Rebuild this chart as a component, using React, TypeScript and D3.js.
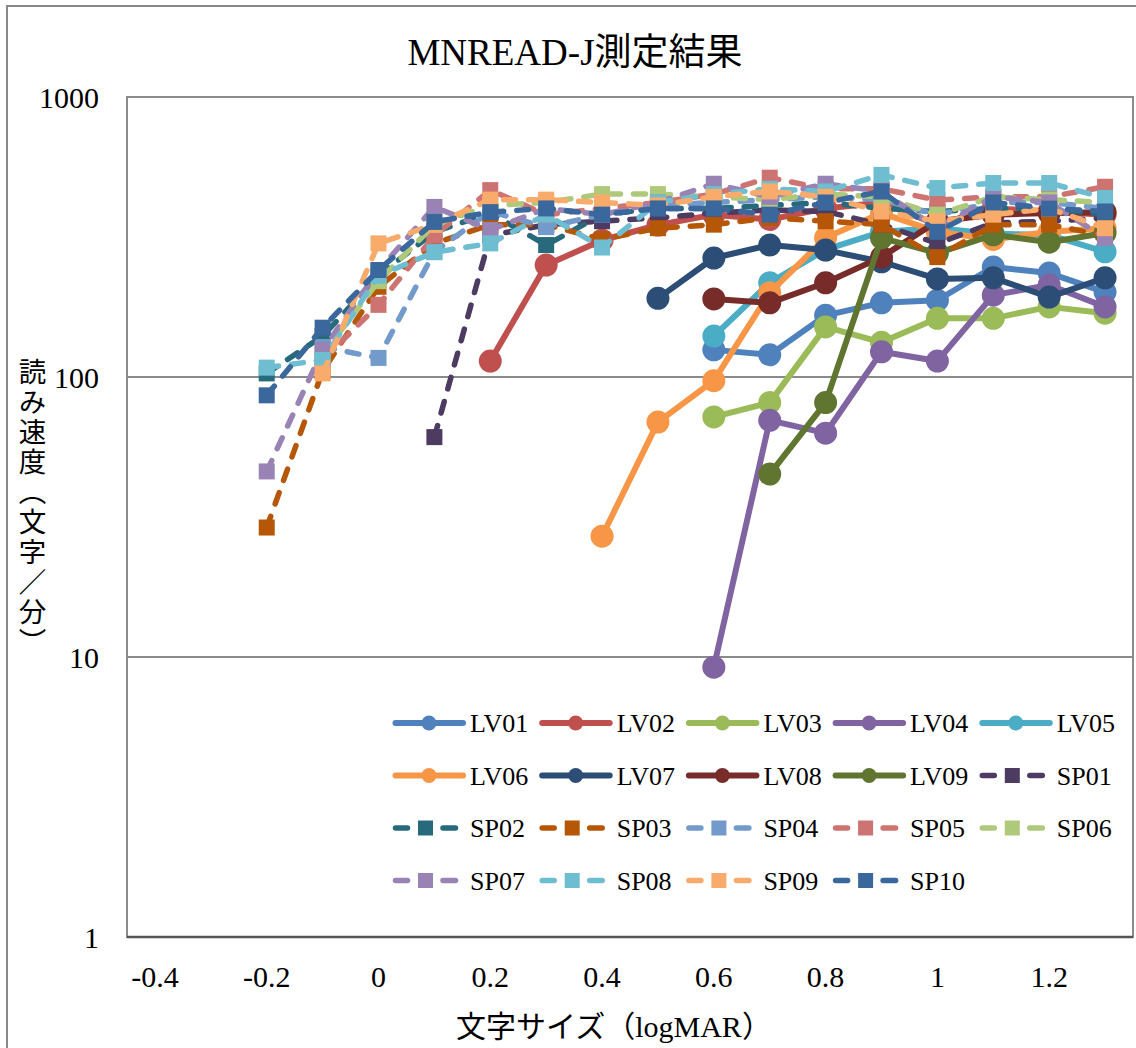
import * as React from 'react';
import * as d3 from 'd3';

// logMAR steps on the x axis
const logMAR = [-0.2, -0.1, 0, 0.1, 0.2, 0.3, 0.4, 0.5, 0.6, 0.7, 0.8, 0.9, 1.0, 1.1, 1.2, 1.3];

const xTicks = [-0.4, -0.2, 0, 0.2, 0.4, 0.6, 0.8, 1, 1.2];
const yTicks = [1, 10, 100, 1000];

const seriesNames = [
  'LV01', 'LV02', 'LV03', 'LV04', 'LV05', 'LV06', 'LV07', 'LV08', 'LV09',
  'SP01', 'SP02', 'SP03', 'SP04', 'SP05', 'SP06', 'SP07', 'SP08', 'SP09', 'SP10',
];

const seriesColors = [
  '#4F81BD', '#C0504D', '#9BBB59', '#8064A2', '#4BACC6', '#F79646', '#2C4D75', '#772C2A', '#5F7530',
  '#4D3B62', '#276A7C', '#B65708', '#729ACA', '#CD7371', '#AFC97A', '#9983B5', '#6FBDD1', '#F9AB6B', '#3A679C',
];

// reading speed (characters / minute), null = not measured
const _ = null;
const LV01 = [_, _, _, _, _, _, _, _, 125, 120, 166, 184, 188, 247, 235, 201];
const LV02 = [_, _, _, _, 114, 251, 308, 349, 380, 365, 400, 420, 350, 400, 390, 380];
const LV03 = [_, _, _, _, _, _, _, _, 72, 81, 151, 133, 162, 162, 178, 169];
const LV04 = [_, _, _, _, _, _, _, _, 9.2, 70, 63, 123, 114, 196, 213, 178];
const LV05 = [_, _, _, _, _, _, _, _, 140, 217, 285, 330, 340, 325, 322, 280];
const LV06 = [_, _, _, _, _, _, 27, 69, 97, 200, 314, 385, 330, 310, 330, 340];
const LV07 = [_, _, _, _, _, _, _, 191, 266, 296, 284, 258, 224, 226, 193, 226];
const LV08 = [_, _, _, _, _, _, _, _, 190, 184, 217, 268, 360, 380, 385, 388];
const LV09 = [_, _, _, _, _, _, _, _, _, 45, 81, 314, 277, 322, 303, 327];
const SP01 = [_, _, _, 61, 320, 350, 360, 370, 385, 395, 390, 350, 300, 355, 360, 370];
const SP02 = [103, 140, 230, 330, 385, 296, 380, 400, 400, 410, 420, 400, 390, 400, 400, 380];
const SP03 = [29, 105, 210, 300, 350, 350, 310, 340, 350, 370, 360, 350, 268, 350, 350, 320];
const SP04 = [_, 128, 117, 280, 390, 343, 380, 410, 420, 430, 440, 430, 380, 420, 420, 400];
const SP05 = [_, 115, 181, 320, 465, 380, 400, 420, 450, 515, 470, 470, 428, 440, 440, 478];
const SP06 = [_, 120, 220, 350, 410, 420, 450, 450, 440, 430, 450, 440, 380, 440, 430, 420];
const SP07 = [46, 125, 240, 405, 335, 400, 380, 420, 490, 440, 490, 460, 340, 440, 420, 314];
const SP08 = [108, 115, 230, 279, 300, 380, 290, 420, 450, 470, 460, 527, 473, 493, 493, 436];
const SP09 = [_, 103, 300, 350, 430, 430, 420, 410, 440, 460, 440, 390, 360, 380, 400, 340];
const SP10 = [86, 150, 241, 358, 388, 400, 380, 400, 400, 380, 420, 460, 330, 420, 400, 390];

const seriesValues = [
  LV01, LV02, LV03, LV04, LV05, LV06, LV07, LV08, LV09,
  SP01, SP02, SP03, SP04, SP05, SP06, SP07, SP08, SP09, SP10,
];

const W = 1136;
const H = 1048;
const plot = {left: 127, top: 97, right: 1133, bottom: 937};
const FONT = "'Liberation Serif', 'Noto Sans CJK JP', serif";

type Pt = {x: number, v: number};

export default function App() {
  const x = d3.scaleLinear().domain([-0.45, 1.35]).range([plot.left, plot.right]);
  const y = d3.scaleLog().domain([1, 1000]).range([plot.bottom, plot.top]);

  const line = d3.line<Pt>().x(d => x(d.x)).y(d => y(d.v));

  const series = seriesNames.map((name, i) => {
    const pts: Pt[] = [];
    seriesValues[i].forEach((v, j) => {
      if (v != null) pts.push({x: logMAR[j], v: v as number});
    });
    return {name, color: seriesColors[i], dashed: name.startsWith('SP'), pts};
  });

  const legendX = (c: number) => 393 + c * 146.7;
  const legendY = (r: number) => 723 + r * 52.5;

  return (
    <svg width={W} height={H} style={{position: 'absolute', left: 0, top: 0, background: '#fff'}}>
      <rect x={7} y={6} width={W + 10} height={H + 10} fill="#fff" stroke="#898989" strokeWidth={2} />

      <text x={575} y={65} textAnchor="middle" fontFamily={FONT} fontSize={37} fill="#000">
        MNREAD-J測定結果
      </text>

      {/* gridlines */}
      {[10, 100].map(t => (
        <line key={t} x1={plot.left} x2={plot.right} y1={y(t)} y2={y(t)} stroke="#8a8a8a" strokeWidth={2} />
      ))}
      <rect x={plot.left} y={plot.top} width={plot.right - plot.left} height={plot.bottom - plot.top}
        fill="none" stroke="#8c8c8c" strokeWidth={2} />
      <line x1={plot.left} x2={plot.right} y1={plot.bottom} y2={plot.bottom} stroke="#555" strokeWidth={2.5} />

      {/* tick labels */}
      {yTicks.map(t => (
        <text key={t} x={99} y={y(t)} dy="0.35em" textAnchor="end" fontFamily={FONT} fontSize={30}>{t}</text>
      ))}
      {xTicks.map(t => (
        <text key={t} x={x(t)} y={987} textAnchor="middle" fontFamily={FONT} fontSize={30}>{String(+t.toFixed(1))}</text>
      ))}

      <text x={614} y={1037} textAnchor="middle" fontFamily={FONT} fontSize={30}>文字サイズ（logMAR）</text>
      <text x={30} y={358} fontFamily={FONT} fontSize={27.5} letterSpacing={2.5}
        style={{writingMode: 'vertical-rl'}}>読み速度（文字／分）</text>

      {/* series */}
      {series.map(s => (
        <g key={s.name}>
          <path d={line(s.pts) || ''} fill="none" stroke={s.color} strokeWidth={s.dashed ? 5.5 : 6}
            strokeDasharray={s.dashed ? '12 13' : undefined} strokeLinecap="round" strokeLinejoin="round" />
          {s.pts.map((p, k) => s.dashed
            ? <rect key={k} x={x(p.x) - 8} y={y(p.v) - 8} width={16} height={16} fill={s.color} />
            : <circle key={k} cx={x(p.x)} cy={y(p.v)} r={11.5} fill={s.color} />)}
        </g>
      ))}

      {/* legend */}
      {series.map((s, i) => {
        const c = i % 5;
        const r = Math.floor(i / 5);
        const lx = legendX(c);
        const ly = legendY(r);
        return (
          <g key={'lg' + s.name}>
            {s.dashed ? (
              <>
                <line x1={lx + 2.5} x2={lx + 14.5} y1={ly} y2={ly} stroke={s.color} strokeWidth={5.5} strokeLinecap="round" />
                <line x1={lx + 50} x2={lx + 62.5} y1={ly} y2={ly} stroke={s.color} strokeWidth={5.5} strokeLinecap="round" />
                <rect x={lx + 25} y={ly - 7.5} width={15} height={15} fill={s.color} />
              </>
            ) : (
              <>
                <line x1={lx + 2.5} x2={lx + 70} y1={ly} y2={ly} stroke={s.color} strokeWidth={6} strokeLinecap="round" />
                <circle cx={lx + 36} cy={ly} r={7.5} fill={s.color} />
              </>
            )}
            <text x={lx + 77} y={ly} dy="0.35em" fontFamily={FONT} fontSize={26}>{s.name}</text>
          </g>
        );
      })}
    </svg>
  );
}
